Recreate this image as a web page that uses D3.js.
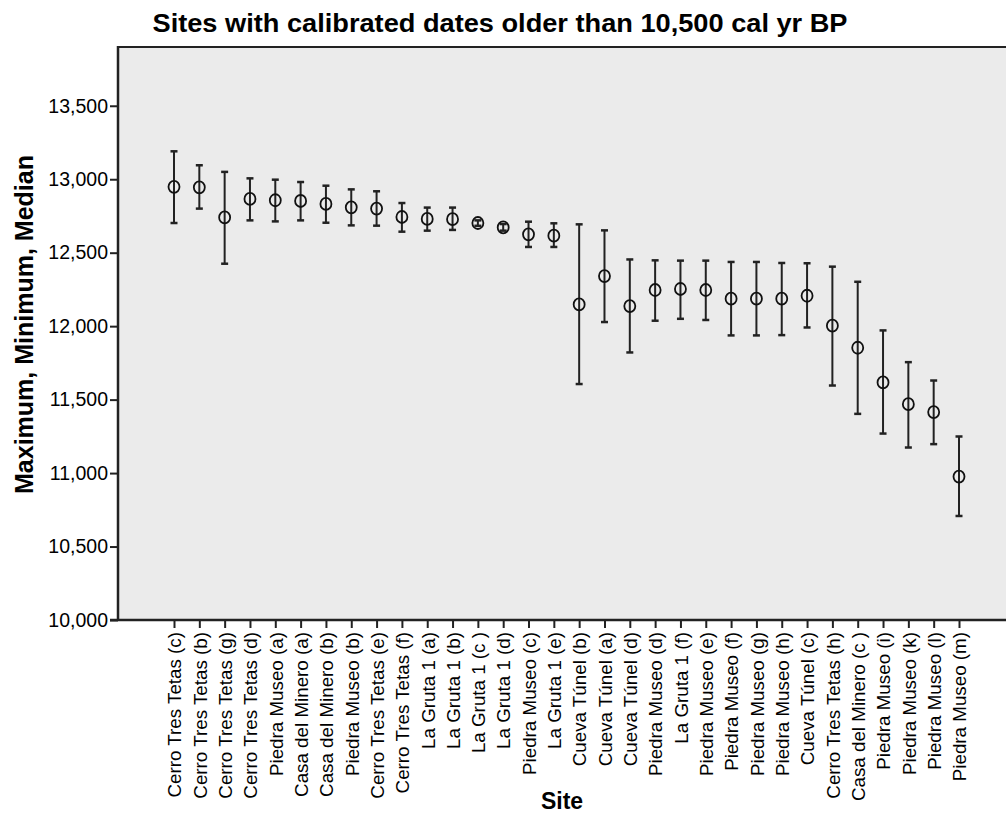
<!DOCTYPE html>
<html>
<head>
<meta charset="utf-8">
<script src="https://cdn.jsdelivr.net/npm/d3@7"></script>
<style>
  body { margin: 0; background: #fff; }
  text { font-family: Arial, "Liberation Sans", sans-serif; fill: #000; }
</style>
</head>
<body>
<div id="svgElement"></div>
<script>
// site names in plotted order
var sites = ["Cerro Tres Tetas (c)", "Cerro Tres Tetas (b)", "Cerro Tres Tetas (g)", "Cerro Tres Tetas (d)",
    "Piedra Museo (a)", "Casa del Minero (a)", "Casa del Minero (b)", "Piedra Museo (b)",
    "Cerro Tres Tetas (e)", "Cerro Tres Tetas (f)", "La Gruta 1 (a)", "La Gruta 1 (b)",
    "La Gruta 1 (c )", "La Gruta 1 (d)", "Piedra Museo (c)", "La Gruta 1 (e)",
    "Cueva Túnel (b)", "Cueva Túnel (a)", "Cueva Túnel (d)", "Piedra Museo (d)",
    "La Gruta 1 (f)", "Piedra Museo (e)", "Piedra Museo (f)", "Piedra Museo (g)",
    "Piedra Museo (h)", "Cueva Túnel (c)", "Cerro Tres Tetas (h)", "Casa del Minero (c )",
    "Piedra Museo (i)", "Piedra Museo (k)", "Piedra Museo (l)", "Piedra Museo (m)"];

var medians = [12948, 12945, 12740, 12866, 12857, 12852, 12832, 12809,
    12800, 12743, 12730, 12728, 12702, 12672, 12625, 12616,
    12148, 12341, 12137, 12246, 12253, 12246, 12187, 12187,
    12187, 12207, 12003, 11853, 11617, 11469, 11415, 10976];

var maxima = [13190, 13095, 13050, 13006, 12997, 12981, 12956, 12931,
    12918, 12838, 12807, 12807, 12720, 12695, 12711, 12700,
    12693, 12652, 12454, 12448, 12446, 12446, 12437, 12437,
    12430, 12428, 12405, 12302, 11971, 11755, 11630, 11249];

var minima = [12702, 12800, 12425, 12720, 12713, 12720, 12704, 12686,
    12684, 12643, 12650, 12655, 12683, 12650, 12539, 12539,
    11606, 12028, 11821, 12037, 12050, 12042, 11937, 11937,
    11939, 11991, 11596, 11403, 11269, 11174, 11197, 10708];

var yTicks = [10000, 10500, 11000, 11500, 12000, 12500, 13000, 13500];

var width = 1006, height = 838;
var plot = { left: 118, top: 47, right: 1006, bottom: 620 };

var svg = d3.select("#svgElement").append("svg")
    .attr("width", width)
    .attr("height", height);

var xScale = d3.scalePoint()
    .domain(sites)
    .range([174, 959]);

var yScale = d3.scaleLinear()
    .domain([10000, 13900])
    .range([plot.bottom, plot.top]);

// plot background
svg.append("rect")
    .attr("x", plot.left)
    .attr("y", plot.top)
    .attr("width", plot.right - plot.left + 5)
    .attr("height", plot.bottom - plot.top)
    .style("fill", "#ebebeb");

// frame lines
svg.append("line")
    .attr("x1", plot.left).attr("x2", plot.right + 5)
    .attr("y1", plot.top).attr("y2", plot.top)
    .style("stroke", "#222").style("stroke-width", 2);

// y axis
var yAxis = svg.append("g")
    .attr("class", "y axis")
    .attr("transform", "translate(" + plot.left + ",0)")
    .call(d3.axisLeft(yScale).tickValues(yTicks).tickFormat(d3.format(",")).tickSize(8).tickPadding(2).tickSizeOuter(0));
yAxis.select(".domain").remove();
yAxis.selectAll(".tick line").style("stroke", "#222").style("stroke-width", 2);
yAxis.selectAll(".tick text").style("font-size", "19.5px").style("font-family", "Arial, 'Liberation Sans', sans-serif").style("fill", "#000");

// x axis
var xAxis = svg.append("g")
    .attr("class", "x axis")
    .attr("transform", "translate(0," + plot.bottom + ")")
    .call(d3.axisBottom(xScale).tickSize(8).tickSizeOuter(0));
xAxis.select(".domain").remove();
xAxis.selectAll(".tick line").style("stroke", "#222").style("stroke-width", 2);
xAxis.selectAll(".tick text")
    .attr("transform", "rotate(-90)")
    .attr("x", -12)
    .attr("y", 0)
    .attr("dy", "0.36em")
    .style("text-anchor", "end")
    .style("font-size", "18.8px")
    .style("font-family", "Arial, 'Liberation Sans', sans-serif")
    .style("fill", "#000");

svg.append("line")
    .attr("x1", plot.left).attr("x2", plot.left)
    .attr("y1", plot.top - 1).attr("y2", plot.bottom + 1)
    .style("stroke", "#222").style("stroke-width", 2.5);
svg.append("line")
    .attr("x1", plot.left - 8).attr("x2", plot.right + 5)
    .attr("y1", plot.bottom).attr("y2", plot.bottom)
    .style("stroke", "#222").style("stroke-width", 2.5);

// error bars: max to min
var bars = svg.append("g").attr("class", "bars");
sites.forEach(function(s, i) {
    var x = xScale(s);
    bars.append("line")
        .attr("x1", x).attr("x2", x)
        .attr("y1", yScale(maxima[i])).attr("y2", yScale(minima[i]))
        .style("stroke", "#222").style("stroke-width", 2);
    [maxima[i], minima[i]].forEach(function(v) {
        bars.append("line")
            .attr("x1", x - 3.5).attr("x2", x + 3.5)
            .attr("y1", yScale(v)).attr("y2", yScale(v))
            .style("stroke", "#222").style("stroke-width", 2.5);
    });
});

// median markers
svg.selectAll(".dot")
    .data(medians)
    .enter().append("ellipse")
    .attr("class", "dot")
    .attr("cx", function(d, i) { return xScale(sites[i]); })
    .attr("cy", function(d) { return yScale(d); })
    .attr("rx", 5.5)
    .attr("ry", 6)
    .style("fill", "none")
    .style("stroke", "#111")
    .style("stroke-width", 1.8);

// title
svg.append("text")
    .attr("x", 500)
    .attr("y", 32)
    .attr("textLength", 695)
    .attr("lengthAdjust", "spacingAndGlyphs")
    .style("text-anchor", "middle")
    .style("font-size", "26px")
    .style("font-weight", "bold")
    .text("Sites with calibrated dates older than 10,500 cal yr BP");

// y label
svg.append("text")
    .attr("transform", "translate(33," + ((plot.top + plot.bottom) / 2 - 9) + ") rotate(-90)")
    .style("text-anchor", "middle")
    .style("font-size", "25px")
    .style("font-weight", "bold")
    .text("Maximum, Minimum, Median");

// x label
svg.append("text")
    .attr("x", 562)
    .attr("y", 809)
    .style("text-anchor", "middle")
    .style("font-size", "23px")
    .style("font-weight", "bold")
    .text("Site");
</script>
</body>
</html>
